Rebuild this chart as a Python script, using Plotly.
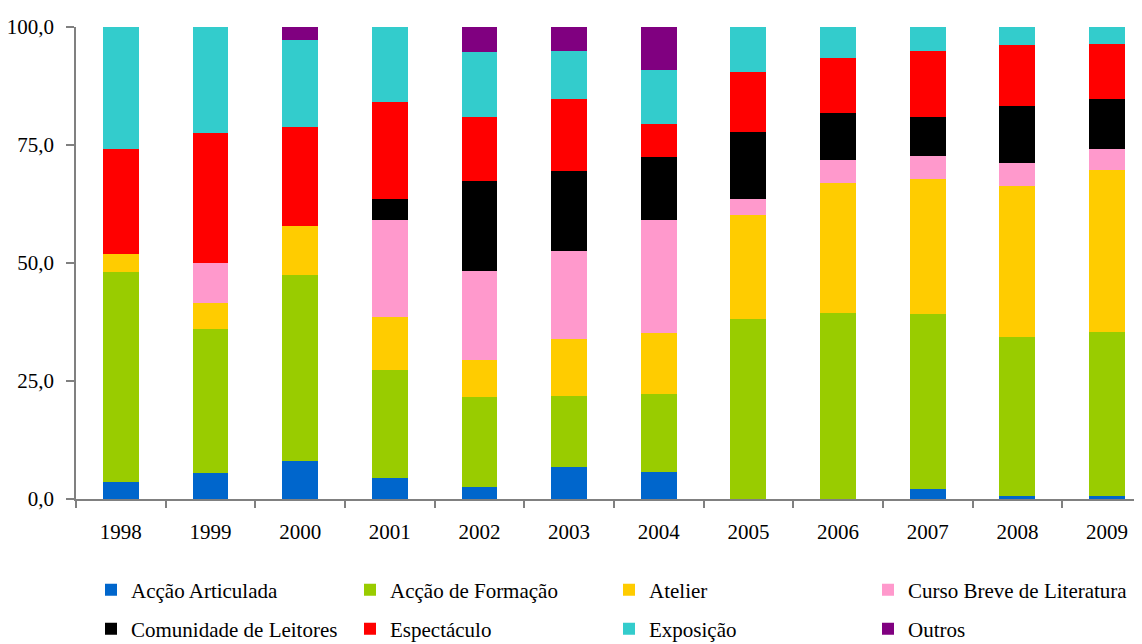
import plotly.graph_objects as go

years = ["1998", "1999", "2000", "2001", "2002", "2003", "2004", "2005", "2006", "2007", "2008", "2009"]

accao_articulada = [3.7, 5.6, 8.1, 4.5, 2.5, 6.8, 5.7, 0.0, 0.0, 2.1, 0.6, 0.6]
accao_formacao = [44.5, 30.4, 39.4, 22.9, 19.2, 15.0, 16.5, 38.1, 39.4, 37.1, 33.7, 34.8]
atelier = [3.7, 5.5, 10.3, 11.2, 7.8, 12.0, 13.0, 22.1, 27.5, 28.6, 32.0, 34.3]
curso_breve = [0.0, 8.5, 0.0, 20.5, 18.8, 18.8, 23.9, 3.4, 4.9, 4.9, 4.9, 4.5]
comunidade = [0.0, 0.0, 0.0, 4.5, 19.1, 16.8, 13.4, 14.2, 10.0, 8.2, 12.1, 10.5]
espectaculo = [22.3, 27.5, 21.0, 20.5, 13.5, 15.4, 6.9, 12.7, 11.6, 14.0, 12.9, 11.7]
exposicao = [25.8, 22.5, 18.4, 15.9, 13.8, 10.2, 11.5, 9.5, 6.6, 5.1, 3.8, 3.6]
outros = [0.0, 0.0, 2.8, 0.0, 5.3, 5.1, 9.1, 0.0, 0.0, 0.0, 0.0, 0.0]

series = [
    ("Acção Articulada", accao_articulada, "#0066CC", "legend"),
    ("Acção de Formação", accao_formacao, "#99CC00", "legend"),
    ("Atelier", atelier, "#FFCC00", "legend"),
    ("Curso Breve de Literatura", curso_breve, "#FF99CC", "legend"),
    ("Comunidade de Leitores", comunidade, "#000000", "legend2"),
    ("Espectáculo", espectaculo, "#FF0000", "legend2"),
    ("Exposição", exposicao, "#33CCCC", "legend2"),
    ("Outros", outros, "#800080", "legend2"),
]

FONT = "Liberation Serif"
FS = 21
W, H = 1134, 636  # page body has an 8px margin

fig = go.Figure()
for name, vals, color, lg in series:
    fig.add_trace(go.Bar(
        x=years, y=vals, name=name, marker=dict(color=color, line=dict(width=0)),
        width=0.4, legend=lg,
    ))

legend_common = dict(
    orientation="h", xref="container", yref="container",
    xanchor="left", yanchor="middle",
    font=dict(family=FONT, size=FS, color="#000000"),
    entrywidth=214, entrywidthmode="pixels",
    bgcolor="rgba(0,0,0,0)", traceorder="normal",
    itemclick=False, itemdoubleclick=False,
)

fig.update_layout(
    width=W, height=H,
    margin=dict(l=68, r=0, t=19, b=145),
    barmode="stack",
    separators=", ",
    paper_bgcolor="white", plot_bgcolor="white",
    font=dict(family=FONT, size=FS, color="#000000"),
    legend=dict(x=83 / W, y=1 - 582 / H, **legend_common),
    legend2=dict(x=83 / W, y=1 - 621 / H, **legend_common),
    xaxis=dict(
        type="category", range=[-0.5, 11.39],
        showline=True, linecolor="#808080", linewidth=1.5,
        ticks="outside", ticklen=7, tickcolor="#808080", tickwidth=1.5,
        tickson="boundaries", showgrid=False, zeroline=False,
        tickfont=dict(family=FONT, size=FS, color="#000000"),
        ticklabelstandoff=13,
    ),
    yaxis=dict(
        range=[0, 100], tickvals=[0, 25, 50, 75, 100], tickformat=".1f",
        showline=True, linecolor="#808080", linewidth=1.5,
        ticks="outside", ticklen=8, tickcolor="#808080", tickwidth=1.5,
        showgrid=False, zeroline=False,
        tickfont=dict(family=FONT, size=FS, color="#000000"),
        ticklabelstandoff=8,
    ),
    bargap=0.6,
)

fig.write_html("out.html")
